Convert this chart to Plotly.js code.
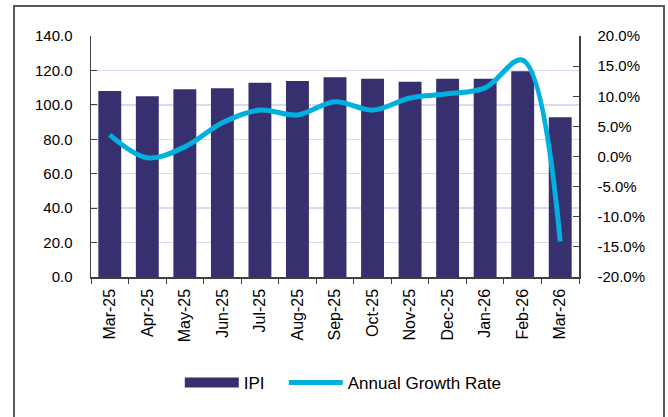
<!DOCTYPE html>
<html>
<head>
<meta charset="utf-8">
<script src="https://cdn.plot.ly/plotly-3.0.1.min.js"></script>
<style>
  html, body { margin: 0; padding: 0; background: #fff; }
  #wrap { position: relative; width: 668px; height: 417px; }
  #chart { width: 668px; height: 417px; }
  #frame { position: absolute; left: 13px; top: 5px; width: 648px; height: 420px;
           border: 2px solid #595959; border-bottom: none; pointer-events: none; }
</style>
</head>
<body>
<div id="wrap">
  <div id="chart"></div>
  <div id="frame"></div>
</div>
<script>
const months = ["Mar-25","Apr-25","May-25","Jun-25","Jul-25","Aug-25","Sep-25","Oct-25","Nov-25","Dec-25","Jan-26","Feb-26","Mar-26"];
const ipi = [108.1, 105.0, 109.0, 109.7, 112.8, 113.8, 116.0, 115.2, 113.4, 115.1, 115.1, 119.5, 92.8];
const growth = [3.6, -0.2, 1.6, 5.6, 7.7, 6.9, 9.1, 7.7, 9.7, 10.4, 11.4, 16.0, -14.1];

const leftTicks = [0, 20, 40, 60, 80, 100, 120, 140];
const leftTickText = ["0.0","20.0","40.0","60.0","80.0","100.0","120.0","140.0"];
const rightTicks = [-20, -15, -10, -5, 0, 5, 10, 15, 20];
const rightTickText = ["-20.0%","-15.0%","-10.0%","-5.0%","0.0%","5.0%","10.0%","15.0%","20.0%"];

const font = {family: "Liberation Sans, Arial, sans-serif", size: 15, color: "#000"};
const xfont = {family: "Liberation Sans, Arial, sans-serif", size: 16, color: "#000"};
const legendFont = {family: "Liberation Sans, Arial, sans-serif", size: 17, color: "#000"};
const barColor = "#37306F";

const traces = [
  {
    type: "bar", name: "IPI", x: months, y: ipi, showlegend: false,
    marker: {color: barColor}
  },
  {
    type: "scatter", mode: "lines", name: "IPI   ", x: [null], y: [null],
    line: {color: barColor, width: 10}, showlegend: true, hoverinfo: "skip"
  },
  {
    type: "scatter", mode: "lines", name: "Annual Growth Rate", x: months, y: growth,
    yaxis: "y2",
    line: {color: "#00B0DE", width: 5, shape: "spline", smoothing: 1}
  }
];

const layout = {
  width: 668, height: 417,
  margin: {l: 91, r: 89, t: 36, b: 140},
  paper_bgcolor: "#fff", plot_bgcolor: "#fff",
  font: font,
  bargap: 0.39,
  showlegend: true,
  legend: {orientation: "h", x: 0.517, xanchor: "center", y: -0.44, yanchor: "middle",
           font: legendFont, itemwidth: 54, tracegroupgap: 0},
  xaxis: {
    type: "category", showline: true, linecolor: "#404040", linewidth: 1.5,
    ticks: "outside", ticklen: 5, tickcolor: "#404040", tickson: "boundaries",
    tickangle: -90, showgrid: false, tickfont: xfont, ticklabelstandoff: 4
  },
  yaxis: {
    range: [0, 140], tickvals: leftTicks, ticktext: leftTickText,
    showline: true, linecolor: "#404040", linewidth: 1.5,
    ticks: "inside", ticklen: 6, tickcolor: "#404040", ticklabelstandoff: 14,
    gridcolor: "#DCDAF2", gridwidth: 1.5, zeroline: false, tickfont: font
  },
  yaxis2: {
    overlaying: "y", side: "right",
    range: [-20, 20], tickvals: rightTicks, ticktext: rightTickText,
    showline: true, linecolor: "#404040", linewidth: 1.5,
    ticks: "inside", ticklen: 6, tickcolor: "#404040", ticklabelstandoff: 14,
    showgrid: false, zeroline: false, tickfont: font
  }
};

Plotly.newPlot("chart", traces, layout, {displayModeBar: false, staticPlot: true});
</script>
</body>
</html>
